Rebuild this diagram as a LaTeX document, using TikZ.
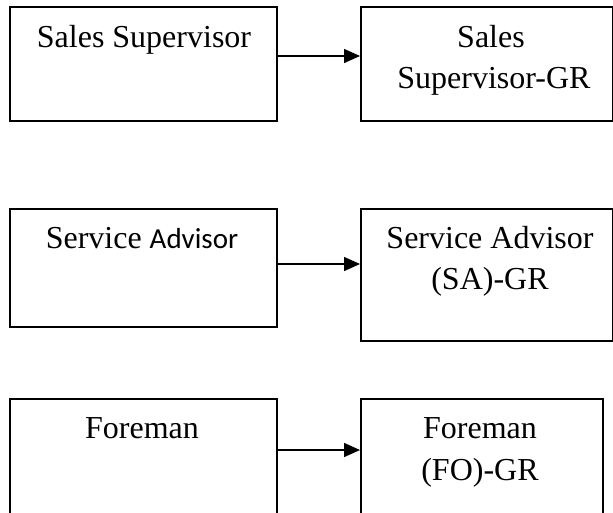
\documentclass[tikz,border=0pt]{standalone}
\usepackage{fontspec}
\setmainfont{Liberation Serif}
\newfontfamily\calibri{Carlito}
\usetikzlibrary{arrows.meta}
\tikzset{
  box/.style={draw=black, line width=1.5pt, rectangle, inner sep=0pt, anchor=north west},
  txt/.style={anchor=base, inner sep=0pt, font=\fontsize{32}{38}\selectfont},
  link/.style={line width=1.5pt, -{Triangle[length=16pt,width=14pt]}}
}
\begin{document}
\begin{tikzpicture}[x=1pt, y=-1pt]
\useasboundingbox (0,0) rectangle (613,512);
\clip (0,0) rectangle (613,512);

% row 1
\node[box, minimum width=267pt, minimum height=114pt] (b1) at (9,6) {};
\node[box, minimum width=252pt, minimum height=114pt] (b2) at (360,6) {};
\node[txt] (t1) at (144,47) {Sales Supervisor};
\node[txt] (t2a) at (491,47) {Sales};
\node[txt] (t2b) at (494,88) {Supervisor-GR};
\coordinate (r1) at (0,56);
\draw[link] (b1.east |- r1) -- (b2.west |- r1);

% row 2
\node[box, minimum width=267pt, minimum height=118pt] (b3) at (9,208) {};
\node[box, minimum width=252pt, minimum height=132pt] (b4) at (360,208) {};
\node[txt] (t3) at (142,248) {Service {\calibri\fontsize{29}{34}\selectfont Advisor}};
\node[txt] (t4a) at (490,248) {Service Advisor};
\node[txt] (t4b) at (490,289) {(SA)-GR};
\coordinate (r2) at (0,264);
\draw[link] (b3.east |- r2) -- (b4.west |- r2);

% row 3
\node[box, minimum width=267pt, minimum height=130pt] (b5) at (9,398) {};
\node[box, minimum width=242pt, minimum height=130pt] (b6) at (360,398) {};
\node[txt] (t5) at (142,438) {Foreman};
\node[txt] (t6a) at (480,438) {Foreman};
\node[txt] (t6b) at (480,480) {(FO)-GR};
\coordinate (r3) at (0,450);
\draw[link] (b5.east |- r3) -- (b6.west |- r3);
\end{tikzpicture}
\end{document}
